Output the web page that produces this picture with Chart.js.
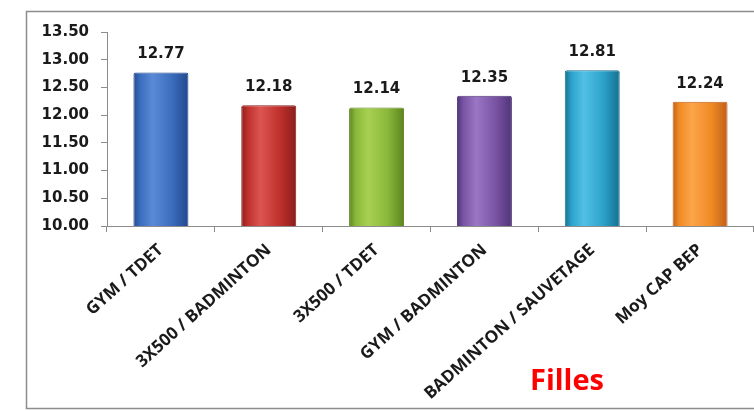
<!DOCTYPE html>
<html>
<head>
<meta charset="utf-8">
<script src="https://cdn.jsdelivr.net/npm/chart.js@4/dist/chart.umd.min.js"></script>
<style>
  body { margin: 0; background: #fff; }
  #wrap { width: 754px; height: 411px; position: relative; }
</style>
</head>
<body>
<div id="wrap"><canvas id="bars"></canvas></div>
<script>
// data
const categories = ['GYM / TDET', '3X500 / BADMINTON', '3X500 / TDET', 'GYM / BADMINTON', 'BADMINTON / SAUVETAGE', 'Moy CAP BEP'];
const moyennes = [12.77, 12.18, 12.14, 12.35, 12.81, 12.24];
const titre = 'Filles';

// colours per bar: [edge, light, mid]
const palette = [
  ['#22488c', '#5a8ad6', '#3b6dbe'],
  ['#8a1e1c', '#dc5550', '#bf302c'],
  ['#5c8420', '#a8d052', '#8ab83a'],
  ['#4f3478', '#9a76c4', '#7a54a4'],
  ['#15708f', '#52c0e6', '#2ca2cb'],
  ['#c0601a', '#fca54a', '#f08a24'],
];

const CAT_PCT = 1, BAR_PCT = 0.51;

function barFill(ctx) {
  const chart = ctx.chart;
  const c = palette[ctx.dataIndex];
  const xs = chart.scales.x;
  if (!chart.chartArea || !xs) return c[2];
  const cx = xs.getPixelForValue(ctx.dataIndex);
  const w = (xs.width / categories.length) * CAT_PCT * BAR_PCT;
  const g = chart.ctx.createLinearGradient(cx - w / 2, 0, cx + w / 2, 0);
  g.addColorStop(0, c[0]);
  g.addColorStop(0.12, c[2]);
  g.addColorStop(0.35, c[1]);
  g.addColorStop(0.7, c[2]);
  g.addColorStop(1, c[0]);
  return g;
}

const cadre = {
  id: 'cadre',
  beforeDraw(chart) {
    const ctx = chart.ctx;
    ctx.save();
    ctx.fillStyle = '#fff';
    ctx.fillRect(0, 0, chart.width, chart.height);
    ctx.strokeStyle = '#8c8c8c';
    ctx.lineWidth = 1.5;
    ctx.strokeRect(26.5, 11.5, chart.width + 10, 397);
    ctx.restore();
  },
  afterDraw(chart) {
    const ctx = chart.ctx;
    ctx.save();
    ctx.fillStyle = '#ff0000';
    ctx.font = 'bold 29px "Open Sans"';
    ctx.textAlign = 'center';
    ctx.textBaseline = 'middle';
    ctx.fillText(titre, 567, 382);
    ctx.restore();
  }
};

const valeurs = {
  id: 'valeurs',
  afterDatasetsDraw(chart) {
    const ctx = chart.ctx;
    const meta = chart.getDatasetMeta(0);
    ctx.save();
    ctx.fillStyle = '#1a1a1a';
    ctx.font = 'bold 15px "DejaVu Sans"';
    ctx.textAlign = 'center';
    ctx.textBaseline = 'middle';
    meta.data.forEach((bar, i) => {
      ctx.fillText(moyennes[i].toFixed(2), bar.x, bar.y - 18);
    });
    ctx.restore();
  }
};

new Chart(document.getElementById('bars'), {
  type: 'bar',
  data: {
    labels: categories,
    datasets: [{
      data: moyennes,
      backgroundColor: barFill,
      borderColor: palette.map(c => c[0]),
      borderWidth: 1,
      borderRadius: 2,
      borderSkipped: 'bottom',
      categoryPercentage: CAT_PCT,
      barPercentage: BAR_PCT,
    }]
  },
  options: {
    responsive: true,
    maintainAspectRatio: false,
    animation: false,
    layout: { autoPadding: false, padding: { top: 32, left: 0, right: 0, bottom: 0 } },
    plugins: { legend: { display: false }, tooltip: { enabled: false } },
    scales: {
      y: {
        min: 10, max: 13.5,
        afterFit(scale) { scale.width = 107; },
        border: { display: true, color: '#8c8c8c', width: 1 },
        grid: { drawOnChartArea: false, drawTicks: true, tickLength: 6, color: '#8c8c8c' },
        ticks: {
          stepSize: 0.5,
          padding: 12,
          color: '#1a1a1a',
          font: { family: 'DejaVu Sans', size: 15, weight: 'bold' },
          callback: v => Number(v).toFixed(2)
        }
      },
      x: {
        afterFit(scale) { scale.height = 185; },
        border: { display: true, color: '#8c8c8c', width: 1 },
        grid: { offset: true, drawOnChartArea: false, drawTicks: true, tickLength: 6, color: '#8c8c8c' },
        ticks: {
          minRotation: 42, maxRotation: 42,
          padding: 8,
          autoSkip: false,
          color: '#1a1a1a',
          font: { family: 'Open Sans', size: 17, weight: 'bold' }
        }
      }
    }
  },
  plugins: [cadre, valeurs]
});
</script>
</body>
</html>
